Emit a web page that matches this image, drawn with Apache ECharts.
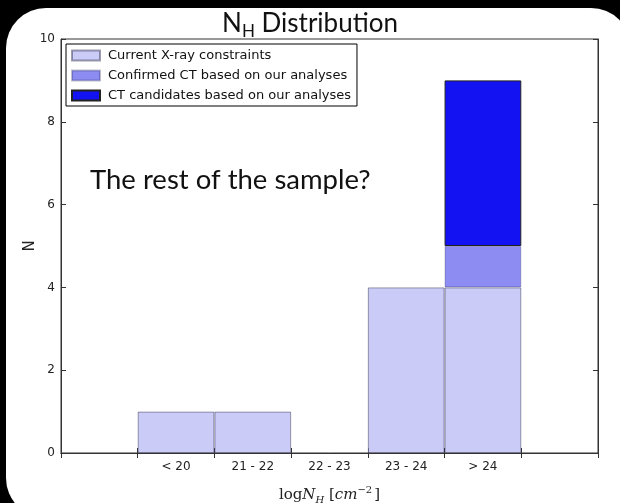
<!DOCTYPE html>
<html>
<head>
<meta charset="utf-8">
<script src="https://cdn.jsdelivr.net/npm/echarts@6/dist/echarts.min.js"></script>
<style>
  html, body { margin: 0; padding: 0; background: #000; }
  #chart { width: 620px; height: 503px; }
</style>
</head>
<body>
<div id="chart"></div>
<script>
// Column density bins (the outer empty slots pad the axis to 0..7)
const categories = ['', '< 20', '21 - 22', '22 - 23', '23 - 24', '> 24', ''];
// Counts per bin for each group (stacked)
const currentConstraints = [null, 1, 1, null, 4, 4, null];
const confirmedCT = [null, null, null, null, null, 1, null];
const ctCandidates = [null, null, null, null, null, 4, null];
const yTicks = { min: 0, max: 10, interval: 2 };

const chart = echarts.init(document.getElementById('chart'), null, { renderer: 'canvas' });

const tickFont = { fontFamily: 'DejaVu Sans', fontSize: 12, color: '#222' };

const option = {
  backgroundColor: '#000',
  animation: false,
  graphic: [
    {
      type: 'rect', z: -10, silent: true,
      shape: { x: 6, y: 8, width: 625, height: 510, r: 40 },
      style: { fill: '#fff' }
    },
    {
      type: 'text', z: 10, left: 90, top: 166,
      style: { text: 'The rest of the sample?', font: '27.5px Lato', fill: '#111' }
    }
  ],
  title: {
    left: 'center', top: 3,
    text: '{n|N}{s|H}{n| Distribution}',
    textStyle: {
      fontWeight: 'normal',
      rich: {
        n: { fontFamily: 'Lato', fontSize: 26, lineHeight: 32, color: '#111' },
        s: { fontFamily: 'Lato', fontSize: 17, lineHeight: 4, color: '#111', verticalAlign: 'bottom' }
      }
    }
  },
  legend: {
    orient: 'vertical',
    left: 66, top: 44,
    icon: 'rect',
    itemWidth: 28, itemHeight: 10, itemGap: 7,
    padding: [5, 6, 4, 5],
    borderColor: '#000', borderWidth: 1,
    backgroundColor: '#fff',
    textStyle: { fontFamily: 'DejaVu Sans', fontSize: 13, color: '#111', padding: [0, 0, 0, 3] },
    data: ['Current X-ray constraints', 'Confirmed CT based on our analyses', 'CT candidates based on our analyses']
  },
  grid: {
    left: 61, right: 22, top: 39, bottom: 50,
    outerBoundsMode: 'none',
    show: true, borderColor: '#333', borderWidth: 1, backgroundColor: 'transparent'
  },
  xAxis: [
    {
      type: 'category', data: categories, position: 'bottom', boundaryGap: true,
      axisLine: { show: true, onZero: false, lineStyle: { color: '#333', width: 1 } },
      axisTick: { show: true, inside: true, length: 5, alignWithLabel: false, lineStyle: { color: '#333' } },
      axisLabel: Object.assign({ margin: 8, inside: false }, tickFont),
      splitLine: { show: false },
      name: '{r|log}{i|N}{sub|H}{r| [}{i|cm}{sup|−2}{r|]}',
      nameLocation: 'middle', nameGap: 32,
      nameTextStyle: {
        rich: {
          r: { fontFamily: 'DejaVu Serif', fontSize: 15, lineHeight: 20, color: '#222' },
          i: { fontFamily: 'DejaVu Serif', fontStyle: 'italic', fontSize: 15, lineHeight: 20, color: '#222' },
          sub: { fontFamily: 'DejaVu Serif', fontStyle: 'italic', fontSize: 10, lineHeight: 10, color: '#222', verticalAlign: 'bottom' },
          sup: { fontFamily: 'DejaVu Serif', fontSize: 10, lineHeight: 8, color: '#222', verticalAlign: 'top', padding: [0, 2, 0, 0] }
        }
      }
    },
    {
      type: 'category', data: categories, position: 'top', boundaryGap: true,
      axisLine: { show: true, lineStyle: { color: '#333', width: 1 } },
      axisTick: { show: true, inside: true, length: 5, lineStyle: { color: '#333' } },
      axisLabel: { show: false }
    }
  ],
  yAxis: [
    {
      type: 'value', min: yTicks.min, max: yTicks.max, interval: yTicks.interval, position: 'left',
      axisLine: { show: true, lineStyle: { color: '#333', width: 1 } },
      axisTick: { show: true, inside: true, length: 5, lineStyle: { color: '#333' } },
      axisLabel: Object.assign({ margin: 6 }, tickFont),
      splitLine: { show: false },
      name: 'N', nameLocation: 'middle', nameGap: 23, nameRotate: 90, nameMoveOverlap: false,
      nameTextStyle: { fontFamily: 'DejaVu Sans', fontSize: 15, color: '#222' }
    },
    {
      type: 'value', min: yTicks.min, max: yTicks.max, interval: yTicks.interval, position: 'right',
      axisLine: { show: true, lineStyle: { color: '#333', width: 1 } },
      axisTick: { show: true, inside: true, length: 5, lineStyle: { color: '#333' } },
      axisLabel: { show: false },
      splitLine: { show: false }
    }
  ],
  series: [
    {
      name: 'Current X-ray constraints', type: 'bar', stack: 'nh', data: currentConstraints,
      barCategoryGap: '0%', barGap: '0%',
      itemStyle: { color: '#cbcbf7', borderColor: 'rgba(40,40,70,0.45)', borderWidth: 1 }
    },
    {
      name: 'Confirmed CT based on our analyses', type: 'bar', stack: 'nh', data: confirmedCT,
      barCategoryGap: '0%', barGap: '0%',
      itemStyle: { color: '#8c8cf3', borderColor: 'rgba(40,40,90,0.3)', borderWidth: 1 }
    },
    {
      name: 'CT candidates based on our analyses', type: 'bar', stack: 'nh', data: ctCandidates,
      barCategoryGap: '0%', barGap: '0%',
      itemStyle: { color: '#1212f2', borderColor: '#222', borderWidth: 1 }
    }
  ]
};

chart.setOption(option);
</script>
</body>
</html>
